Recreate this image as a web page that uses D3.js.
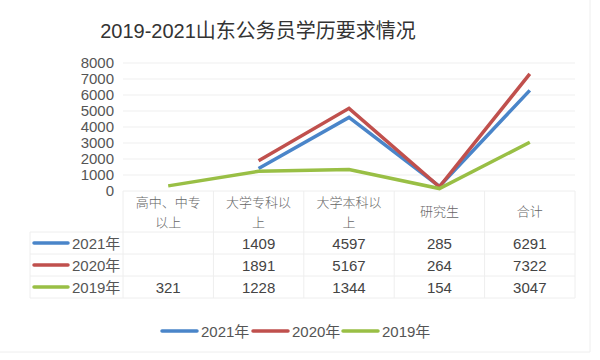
<!DOCTYPE html>
<html><head><meta charset="utf-8">
<script src="https://cdn.jsdelivr.net/npm/d3@7"></script>
<style>body{margin:0;background:#fff}svg{display:block}</style>
</head><body><svg id="c" width="600" height="360"></svg>
<script>
const categories = ["高中、中专以上", "大学专科以上", "大学本科以上", "研究生", "合计"];
const categoryLines = [["高中、中专", "以上"], ["大学专科以", "上"], ["大学本科以", "上"], ["研究生"], ["合计"]];
const seriesNames = ["2021年", "2020年", "2019年"];
const values2021 = [null, 1409, 4597, 285, 6291];
const values2020 = [null, 1891, 5167, 264, 7322];
const values2019 = [321, 1228, 1344, 154, 3047];
const yTicks = [0, 1000, 2000, 3000, 4000, 5000, 6000, 7000, 8000];
const colors = ["#4a85c9", "#c0504d", "#99bf45"];
const series = [values2021, values2020, values2019];

(function () {
const svg = d3.select("#c");
const sans = "'Liberation Sans', Arial, 'Noto Sans CJK SC', sans-serif";
const pLeft = 123, pRight = 575, pTop = 63, pBottom = 191;

svg.append("text").attr("x", 258).attr("y", 38).attr("text-anchor", "middle")
  .attr("font-family", sans).attr("font-size", 20).attr("fill", "#333")
  .text("2019-2021山东公务员学历要求情况");

svg.append("line").attr("x1", 590).attr("x2", 590).attr("y1", 0).attr("y2", 352).attr("stroke", "#eee");
svg.append("line").attr("x1", 0).attr("x2", 590).attr("y1", 352).attr("y2", 352).attr("stroke", "#eee");

const x = d3.scaleBand().domain(categories).range([pLeft, pRight]);
const y = d3.scaleLinear().domain([0, 8000]).range([pBottom, pTop]);

svg.append("g").selectAll("line").data(yTicks.slice(1)).join("line")
  .attr("x1", pLeft).attr("x2", pRight).attr("y1", d => y(d)).attr("y2", d => y(d))
  .attr("stroke", "#efefef").attr("stroke-width", 1);

const yAxis = d3.axisLeft(y).tickValues(yTicks).tickFormat(d3.format("d")).tickSize(0).tickPadding(0);
const ya = svg.append("g").attr("transform", "translate(114,0)").call(yAxis);
ya.select(".domain").remove();
ya.selectAll("text").attr("font-family", sans).attr("font-size", 15).attr("fill", "#555");

const legendLeft = 30;
const rowY = [232, 254, 276, 298];
const tg = svg.append("g").attr("stroke", "#eee").attr("fill", "none");
const xb = categories.map(c => x(c)).concat([pRight]);
xb.forEach(v => tg.append("line").attr("x1", v).attr("x2", v).attr("y1", 191).attr("y2", 298));
tg.append("line").attr("x1", legendLeft).attr("x2", legendLeft).attr("y1", 232).attr("y2", 298);
rowY.forEach(v => tg.append("line").attr("x1", legendLeft).attr("x2", pRight).attr("y1", v).attr("y2", v));
tg.append("line").attr("x1", pLeft).attr("x2", pRight).attr("y1", 191).attr("y2", 191);

categoryLines.forEach((lines, i) => {
  const cx = x(categories[i]) + x.bandwidth() / 2;
  const y0 = lines.length === 2 ? 207 : 216;
  lines.forEach((l, j) => svg.append("text").attr("text-anchor", "middle")
    .attr("font-family", "'Noto Sans CJK SC', sans-serif")
    .attr("font-size", 13).attr("font-weight", 300).attr("fill", "#666")
    .attr("x", cx).attr("y", y0 + j * 19.5).text(l));
});

series.forEach((vals, s) => {
  const ry = (rowY[s] + rowY[s + 1]) / 2;
  svg.append("line").attr("x1", 34).attr("x2", 68).attr("y1", ry).attr("y2", ry)
    .attr("stroke", colors[s]).attr("stroke-width", 3.5).attr("stroke-linecap", "round");
  svg.append("text").attr("x", 72).attr("y", ry + 5.5).attr("font-family", sans).attr("font-size", 15).attr("fill", "#555").text(seriesNames[s]);
  vals.forEach((v, i) => {
    if (v == null) return;
    svg.append("text").attr("x", x(categories[i]) + x.bandwidth() / 2).attr("y", ry + 5.5)
      .attr("text-anchor", "middle").attr("font-family", sans).attr("font-size", 15).attr("fill", "#444").text(v);
  });
});

const line = d3.line().defined(d => d.v != null)
  .x(d => x(d.c) + x.bandwidth() / 2).y(d => y(d.v));
[0, 1, 2].forEach(s => {
  svg.append("path").datum(series[s].map((v, i) => ({ c: categories[i], v })))
    .attr("d", line).attr("fill", "none").attr("stroke", colors[s]).attr("stroke-width", 3.5);
});

const lx = [162, 253, 343];
seriesNames.forEach((n, s) => {
  svg.append("line").attr("x1", lx[s]).attr("x2", lx[s] + 35).attr("y1", 331).attr("y2", 331)
    .attr("stroke", colors[s]).attr("stroke-width", 3.5).attr("stroke-linecap", "round");
  svg.append("text").attr("x", lx[s] + 39).attr("y", 337).attr("font-family", sans).attr("font-size", 15)
    .attr("fill", "#555").text(n);
});
})();
</script></body></html>
